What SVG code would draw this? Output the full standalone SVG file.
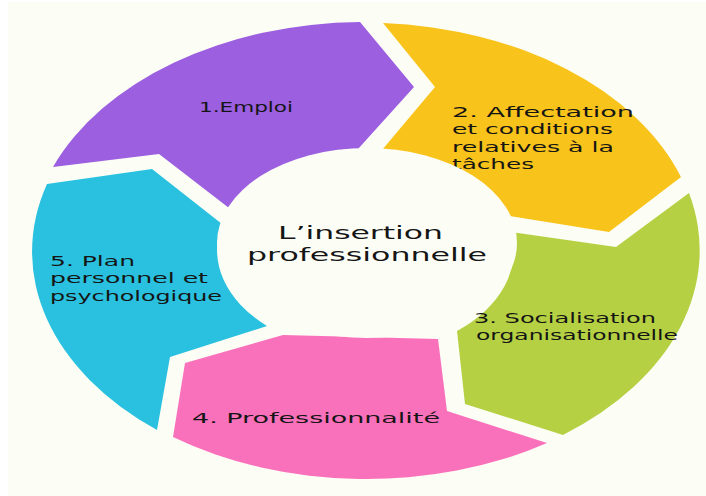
<svg xmlns="http://www.w3.org/2000/svg" width="706" height="496" viewBox="0 0 706 496">
<style>
.lbl{font-family:"DejaVu Sans","Liberation Sans",sans-serif;font-size:14.6px;fill:#151515}
.ctr{font-family:"DejaVu Sans","Liberation Sans",sans-serif;font-size:18.5px;fill:#151515}
</style>
<rect x="0" y="0" width="706" height="496" fill="#ffffff"/>
<rect x="8" y="2" width="698" height="494" fill="#fcfdf5"/>
<g id="connectors"></g>
<g id="n1">
<path d="M53,167 A335,229 0 0 1 360,22 L414,87 L358,149 A150,102 0 0 0 229,208 L159,154 Z" fill="#9b5fe0"/>
<text class="lbl" x="199" y="112" textLength="94" lengthAdjust="spacingAndGlyphs">1.Emploi</text>
</g>
<g id="n2">
<path d="M383,23 A335,229 0 0 1 681,177 L609,232 L503,215 A150,102 0 0 0 382,150 L435,87 Z" fill="#f8c31a"/>
<text class="lbl" x="452" y="117" textLength="182" lengthAdjust="spacingAndGlyphs">2. Affectation</text>
<text class="lbl" x="452" y="134.3" textLength="161" lengthAdjust="spacingAndGlyphs">et conditions</text>
<text class="lbl" x="452" y="151.6" textLength="162" lengthAdjust="spacingAndGlyphs">relatives à la</text>
<text class="lbl" x="452" y="168.9" textLength="82" lengthAdjust="spacingAndGlyphs">tâches</text>
</g>
<g id="n3">
<path d="M511,232 L616,247 L689,193 A335,229 0 0 1 563,435 L465,404 L457,331 A150,102 0 0 0 511,232 Z" fill="#b5d143"/>
<text class="lbl" x="474" y="323" textLength="182" lengthAdjust="spacingAndGlyphs">3. Socialisation</text>
<text class="lbl" x="476" y="340.3" textLength="202" lengthAdjust="spacingAndGlyphs">organisationnelle</text>
</g>
<g id="n4">
<path d="M438,339 L447,411 L547,443 A335,229 0 0 1 173,437 L185,363 L283,335 Z" fill="#fa71bb"/>
<text class="lbl" x="192" y="423" textLength="248" lengthAdjust="spacingAndGlyphs">4. Professionnalité</text>
</g>
<g id="n5">
<path d="M222,224 A150,102 0 0 0 267,326 L170,357 L157,430 A335,229 0 0 1 47,184 L152,169 Z" fill="#29c1df"/>
<text class="lbl" x="50" y="266" textLength="85" lengthAdjust="spacingAndGlyphs">5. Plan</text>
<text class="lbl" x="50" y="283.3" textLength="158" lengthAdjust="spacingAndGlyphs">personnel et</text>
<text class="lbl" x="50" y="300.6" textLength="172" lengthAdjust="spacingAndGlyphs">psychologique</text>
</g>
<g id="center">
<ellipse cx="367" cy="243" rx="150" ry="95" fill="#fcfdf5"/>
<text class="ctr" x="278" y="239" textLength="165" lengthAdjust="spacingAndGlyphs">L’insertion</text>
<text class="ctr" x="247" y="261" textLength="240" lengthAdjust="spacingAndGlyphs">professionnelle</text>
</g>
</svg>
